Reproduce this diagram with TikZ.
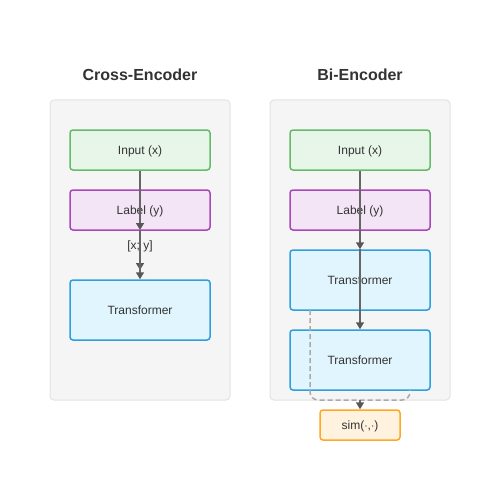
\documentclass[tikz,border=0pt]{standalone}
\usepackage{fontspec}
\setmainfont{Liberation Sans}
\usetikzlibrary{arrows.meta}
\definecolor{panelfill}{HTML}{F5F5F5}
\definecolor{paneldraw}{HTML}{E3E3E3}
\definecolor{infill}{HTML}{E8F5E9}
\definecolor{indraw}{HTML}{66BB6A}
\definecolor{lbfill}{HTML}{F3E5F5}
\definecolor{lbdraw}{HTML}{AB47BC}
\definecolor{trfill}{HTML}{E1F5FE}
\definecolor{trdraw}{HTML}{2F9FDB}
\definecolor{simfill}{HTML}{FFF3E0}
\definecolor{simdraw}{HTML}{FFA726}
\definecolor{txt}{HTML}{333333}
\definecolor{arr}{HTML}{666666}
\definecolor{dash}{HTML}{AAAAAA}
\begin{document}
\begin{tikzpicture}[x=1pt,y=-1pt,
  panel/.style={draw=paneldraw,fill=panelfill,line width=1pt,rounded corners=4pt},
  lbl/.style={text=txt,font=\fontsize{12}{14}\selectfont,text height=10pt,text depth=1.6pt,inner sep=0pt},
  box/.style={lbl,rounded corners=3pt,line width=1.5pt,minimum width=140pt},
  inbox/.style={box,draw=indraw,fill=infill,minimum height=40pt},
  lbbox/.style={box,draw=lbdraw,fill=lbfill,minimum height=40pt},
  trbox/.style={box,draw=trdraw,fill=trfill,minimum height=60pt},
  simbox/.style={box,draw=simdraw,fill=simfill,minimum width=80pt,minimum height=30pt},
  title/.style={font=\bfseries\fontsize{16}{19}\selectfont,text=txt},
  flow/.style={draw=arr,line width=1.5pt,-{Triangle[length=7pt,width=8pt,color=arr!85!black]}},
  dashline/.style={draw=dash,line width=1.5pt,dash pattern=on 5pt off 3pt,rounded corners=8pt}]
\useasboundingbox (0,0) rectangle (500,500);
\fill[white] (0,0) rectangle (500,500);
% panels
\draw[panel] (50,100) rectangle (230,400);
\draw[panel] (270,100) rectangle (450,400);
\node[title] (t1) at (140,75) {Cross-Encoder};
\node[title] (t2) at (360,75) {Bi-Encoder};
% cross encoder
\node[inbox] (cin) at (140,150) {Input (x)};
\node[lbbox] (clb) at (140,210) {Label (y)};
\node[trbox] (ctr) at (140,310) {Transformer};
\node[lbl] (cxy) at (140,245) {[x; y]};
\coordinate (c1) at (140,230);
\coordinate (c2) at (140,270);
\coordinate (c3) at (140,240);
\draw[flow] (cin.south) -- (c1);
\draw[flow] (c1) -- (c2);
\draw[flow] (c3) -- (ctr.north);
% bi encoder
\node[inbox] (bin) at (360,150) {Input (x)};
\node[lbbox] (blb) at (360,210) {Label (y)};
\node[trbox] (btr1) at (360,280) {Transformer};
\node[trbox] (btr2) at (360,360) {Transformer};
\node[simbox] (sim) at (360,425) {sim($\cdot$,$\cdot$)};
\coordinate (d1) at (310,310);
\coordinate (d2) at (310,400);
\coordinate (d3) at (410,400);
\coordinate (d4) at (410,390);
\coordinate (s0) at (360,400);
\draw[dashline] (d1) -- (d2) -- (d3) -- (d4);
\draw[flow] (bin.south) -- (btr1.north);
\draw[flow] (btr1.north) -- (btr2.north);
\draw[flow] (s0) -- (sim.north);
\end{tikzpicture}
\end{document}
